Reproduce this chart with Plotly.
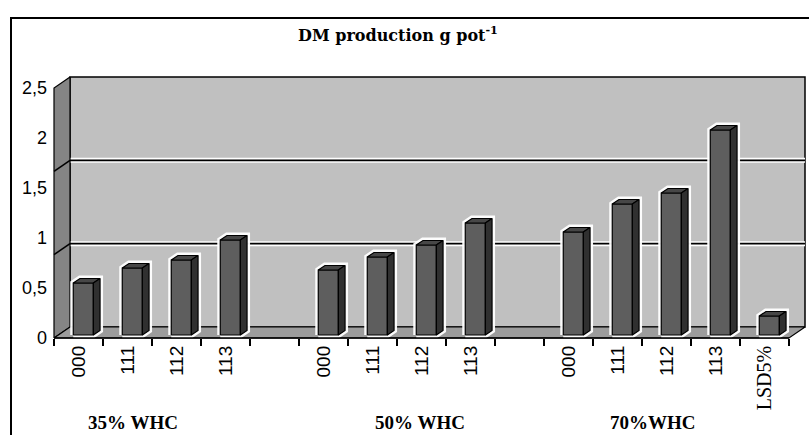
import plotly.graph_objects as go

# ---------------- data ----------------
categories = ["000", "111", "112", "113", "",
              "000", "111", "112", "113", "",
              "000", "111", "112", "113", "LSD5%"]
whc35 = [0.52, 0.67, 0.75, 0.95]
whc50 = [0.65, 0.78, 0.90, 1.12]
whc70 = [1.03, 1.31, 1.42, 2.05]
lsd5 = [0.19]
group_labels = ["35% WHC", "50% WHC", "70%WHC"]
group_label_pos = [1.11, 6.97, 11.72]
y_tickvals = [0, 0.5, 1, 1.5, 2, 2.5]
y_ticktext = ["0", "0,5", "1", "1,5", "2", "2,5"]
y_max = 2.5
grid_vals = [y_max / 3, 2 * y_max / 3]

values = whc35 + [None] + whc50 + [None] + whc70 + lsd5

# ---------------- geometry / style ----------------
W, H = 809, 435
slot_px, first_px, unit_px, zero_py = 49.0, 78.5, 100.0, 338.0
x_range = [(0 - first_px) / slot_px, (W - first_px) / slot_px]
y_range = [(zero_py - H) / unit_px, zero_py / unit_px]
DX, DY = 16 / slot_px, 11 / unit_px          # depth of the 3D box
bar_off, bar_w, bar_base = 4.8 / slot_px, 0.41, 0.03
bdx, bdy = 6.7 / slot_px, 0.045             # depth of each bar

x0, x1 = -0.5, len(categories) - 0.5

fig = go.Figure()


def poly(xs, ys, fill, lc="black", lw=1.0):
    fig.add_trace(go.Scatter(x=xs, y=ys, mode="lines", fill="toself",
                             fillcolor=fill, line=dict(color=lc, width=lw),
                             hoverinfo="skip", showlegend=False))


def line(xs, ys, color, width):
    fig.add_trace(go.Scatter(x=xs, y=ys, mode="lines",
                             line=dict(color=color, width=width),
                             hoverinfo="skip", showlegend=False))


# back wall
poly([x0 + DX, x1 + DX, x1 + DX, x0 + DX, x0 + DX],
     [DY, DY, y_max + DY, y_max + DY, DY], "#c0c0c0", lw=1.5)
# back wall gridlines (with light halo)
for g in grid_vals:
    line([x0 + DX, x1 + DX], [g + DY, g + DY], "white", 5)
    line([x0 + DX, x1 + DX], [g + DY, g + DY], "black", 1.6)
# left wall
poly([x0, x0 + DX, x0 + DX, x0, x0], [0, DY, y_max + DY, y_max, 0], "#858585", lw=1.2)
for g in grid_vals:
    line([x0, x0 + DX], [g, g + DY], "black", 1.6)
# floor
poly([x0, x1, x1 + DX, x0 + DX, x0], [0, 0, DY, DY, 0], "#9c9c9c", lw=1.2)

# bars
hx, hy, fx, fy, tx, ty, sx, sy = [], [], [], [], [], [], [], []
for i, v in enumerate(values):
    if v is None:
        continue
    xl = i + bar_off - bar_w / 2
    xr = xl + bar_w
    b, t = bar_base, bar_base + v
    hx += [xl, xl, xl + bdx, xr + bdx, xr + bdx, xr, xl, None]
    hy += [b, t, t + bdy, t + bdy, b + bdy, b, b, None]
    fx += [xl, xr, xr, xl, xl, None]
    fy += [b, b, t, t, b, None]
    tx += [xl, xr, xr + bdx, xl + bdx, xl, None]
    ty += [t, t, t + bdy, t + bdy, t, None]
    sx += [xr, xr + bdx, xr + bdx, xr, xr, None]
    sy += [b, b + bdy, t + bdy, t, b, None]

line(hx, hy, "rgba(255,255,255,0.95)", 6)
poly(fx, fy, "#5e5e5e", lw=1.2)
poly(tx, ty, "#474747", lw=1.2)
poly(sx, sy, "#303030", lw=1.2)

# front axis line
line([x0, x1], [0, 0], "black", 1.6)

tick_idx = [i for i, c in enumerate(categories) if c]
tick_txt = []
for i in tick_idx:
    c = categories[i]
    if c == "LSD5%":
        tick_txt.append('<span style="font-family:Liberation Serif;font-size:20px">' + c + '</span>')
    else:
        tick_txt.append(c)

fig.update_layout(
    width=W, height=H, autosize=False,
    margin=dict(l=0, r=0, t=0, b=0),
    paper_bgcolor="white", plot_bgcolor="white",
    showlegend=False,
    title=dict(text="<b>DM production g pot<sup>-1</sup></b>",
               x=398 / W, y=1 - 35 / H, xanchor="center", yanchor="middle",
               font=dict(family="DejaVu Serif", size=16, color="black")),
    xaxis=dict(range=x_range, showgrid=False, zeroline=False, showline=False,
               tickmode="array", tickvals=tick_idx, ticktext=tick_txt,
               tickangle=-90, ticks="", anchor="free",
               position=(H - zero_py) / H, ticklabelstandoff=3,
               tickfont=dict(family="Liberation Sans", size=19, color="black"),
               minor=dict(tickmode="array",
                          tickvals=[x0 + k for k in range(len(categories) + 1)],
                          ticks="outside", ticklen=7, tickwidth=1.5, tickcolor="black")),
    yaxis=dict(range=y_range, showgrid=False, zeroline=False, showline=False,
               tickmode="array", tickvals=y_tickvals, ticktext=y_ticktext,
               ticks="", anchor="free", position=47 / W,
               tickfont=dict(family="Liberation Sans", size=18, color="black")),
)

for lbl, xp in zip(group_labels, group_label_pos):
    fig.add_annotation(text="<b>" + lbl + "</b>", x=xp, xref="x",
                       y=0, yref="paper", showarrow=False,
                       xanchor="center", yanchor="bottom",
                       font=dict(family="Liberation Serif", size=19, color="black"))

# outer frame (left and top edges visible)
fig.add_shape(type="rect", xref="paper", yref="paper",
              x0=11 / W, x1=1.05, y0=-0.05, y1=1 - 18 / H,
              line=dict(color="black", width=2), fillcolor="rgba(0,0,0,0)")

fig.write_html("out.html")
